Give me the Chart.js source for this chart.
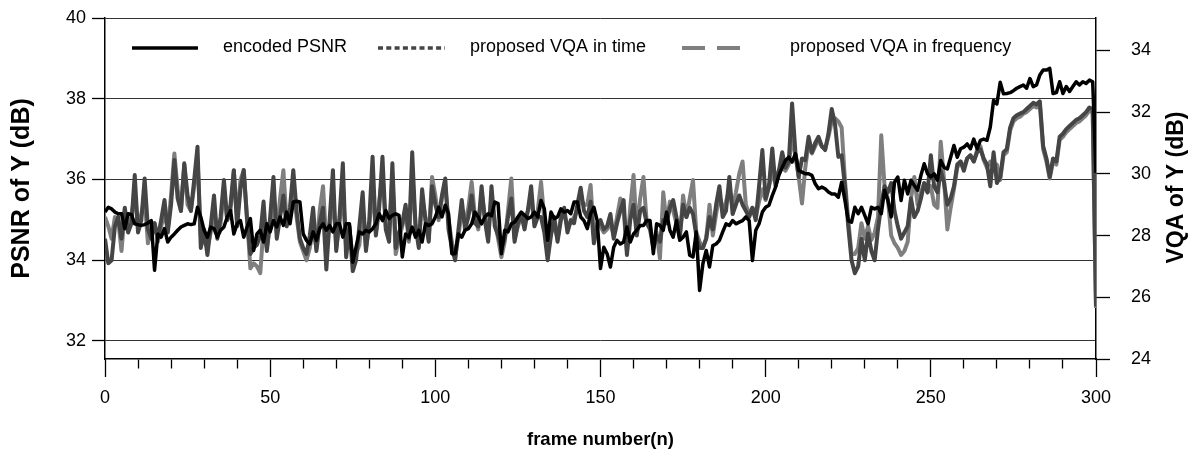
<!DOCTYPE html>
<html><head><meta charset="utf-8">
<script src="https://cdn.jsdelivr.net/npm/chart.js@4"></script>
<style>html,body{margin:0;padding:0;background:#fff;}#wrap{width:1200px;height:465px;position:relative;}</style>
</head><body><div id="wrap"><canvas id="c" width="1200" height="465"></canvas></div>
<script>
// frame numbers 0..300 (categories)
const frameStart = 0, frameEnd = 300;
const xTickValues = [0,10,20,30,40,50,60,70,80,90,100,110,120,130,140,150,160,170,180,190,200,210,220,230,240,250,260,270,280,290,300];
const leftTicks = [32,34,36,38,40];
const rightTicks = [24,26,28,30,32,34];
const seriesNames = ['encoded PSNR','proposed VQA in time','proposed VQA in frequency'];

const encodedPSNR = [
35.19,35.31,35.27,35.19,35.15,35.15,34.78,35.15,35.13,34.9,
34.88,34.86,34.88,34.92,34.98,33.75,34.65,34.57,34.78,34.45,
34.57,34.65,34.74,34.82,34.86,34.9,34.88,34.9,35.31,35.07,
34.74,34.57,34.82,34.78,34.57,34.74,34.82,35.07,35.23,34.65,
34.9,34.98,34.57,34.82,35.03,34.24,34.65,34.74,34.45,34.9,
34.7,34.98,34.82,35.07,34.86,35.19,34.9,35.44,35.46,35.44,
34.65,34.49,34.4,34.7,34.49,34.78,34.9,34.74,34.86,34.7,
34.9,34.9,34.57,34.9,34.9,33.95,34.32,34.7,34.65,34.74,
34.7,34.78,34.9,35.15,34.98,35.23,35.03,35.11,35.15,35.11,
34.08,34.65,34.57,34.82,34.57,34.74,34.45,34.9,34.86,34.9,
35.07,35.31,35.07,35.36,35.15,34.16,34.16,34.65,34.57,34.74,
34.78,34.9,35.19,35.07,34.9,35.07,35.15,35.1,35.44,35.4,
34.16,34.74,34.7,34.9,34.94,35.07,35.19,35.11,35.03,35.07,
35.19,35.07,35.48,35.27,34.49,35.19,35.03,35.07,35.27,35.19,
35.23,35.15,35.44,35.44,35.07,34.98,34.78,35.15,35.31,34.98,
33.79,34.32,34.16,33.83,34.32,34.49,34.4,34.45,34.82,34.45,
34.65,34.74,34.86,34.86,34.98,34.98,34.16,34.9,34.86,34.74,
35.19,34.74,34.57,34.98,34.49,34.57,34.7,34.12,34.08,34.7,
33.25,33.91,34.24,33.83,34.36,34.4,34.49,34.7,34.9,34.86,
34.98,34.9,34.94,34.98,35.07,34.98,33.99,34.74,34.9,35.19,
35.31,35.36,35.6,35.81,36.1,36.3,36.47,36.55,36.43,36.64,
36.22,36.18,36.14,36.14,36.1,35.89,35.77,35.81,35.77,35.69,
35.64,35.64,35.56,35.93,35.48,34.98,34.94,35.31,35.15,35.31,
35.11,34.9,35.31,35.27,35.31,35.15,35.73,35.48,35.07,35.93,
36.06,35.48,35.98,35.64,35.98,35.85,35.73,36.1,36.39,36.14,
36.06,36.14,35.98,36.47,36.3,36.26,36.55,36.84,36.55,36.76,
36.8,36.88,36.76,37.0,36.76,36.97,37.0,36.97,37.3,37.96,
37.87,38.41,38.12,38.13,38.15,38.2,38.26,38.3,38.34,38.26,
38.5,38.3,38.34,38.59,38.71,38.71,38.75,38.13,38.15,38.42,
38.13,38.3,38.18,38.3,38.42,38.34,38.42,38.38,38.46,38.42,
36.16];

const vqaTime = [
27.9,27.1,27.2,28.3,28.6,27.9,28.9,28.1,28.4,29.96,
28.1,28.5,29.85,28.2,27.9,28.4,27.9,28.5,29.15,28.1,
29.0,30.45,29.2,28.8,30.34,29.3,28.8,29.8,30.88,27.6,
28.2,27.37,28.3,29.3,27.9,28.6,29.8,28.5,29.0,30.12,
28.3,29.5,30.12,28.5,27.4,27.6,27.7,28.0,29.1,27.5,
28.6,29.9,27.9,28.6,29.3,28.3,28.9,30.12,28.8,27.9,
27.6,27.4,28.0,28.9,27.5,28.4,28.9,26.9,28.5,30.12,
27.5,28.6,30.34,27.3,28.3,26.85,27.2,28.3,29.4,27.5,
28.5,30.55,28.0,28.9,30.55,28.2,27.8,30.34,27.6,28.1,
28.4,29.0,27.9,30.7,28.3,27.6,29.5,28.5,27.8,29.6,
29.0,28.6,29.3,29.85,28.2,27.6,27.2,28.2,29.15,28.2,
28.6,29.3,28.4,28.3,29.6,28.5,27.8,29.6,28.3,28.0,
27.6,27.9,28.6,29.2,27.8,28.4,28.7,28.2,28.8,29.6,
28.3,28.6,28.6,28.1,27.2,28.0,28.6,27.8,28.5,28.9,
28.1,28.5,28.4,29.0,29.55,28.8,28.6,29.1,27.75,28.3,
28.5,28.2,28.3,28.7,27.9,28.4,28.8,29.15,27.37,28.5,
29.0,28.0,28.8,28.9,28.4,28.2,27.6,28.0,27.8,28.5,
28.4,28.9,29.15,28.6,28.0,29.0,28.6,28.9,28.7,28.0,
27.6,27.6,27.9,28.6,28.2,29.0,29.6,28.6,28.8,29.9,
28.7,29.0,29.3,29.0,28.8,28.6,28.9,28.5,29.6,30.77,
29.2,29.6,30.82,29.6,30.1,30.7,30.2,30.4,32.28,30.7,
29.9,30.5,30.44,31.2,30.7,31.0,31.2,30.9,30.77,31.3,
32.1,31.6,30.55,30.6,29.6,28.3,27.2,26.78,27.0,27.9,
27.2,28.07,27.5,27.2,28.2,29.0,29.6,29.4,29.7,28.8,
28.3,27.9,28.1,28.3,29.2,28.6,28.8,29.2,29.7,29.4,
30.6,29.6,29.4,30.1,29.7,29.0,29.2,29.6,30.3,30.4,
30.1,30.5,30.6,30.4,30.7,30.8,30.5,30.3,29.6,30.7,
29.7,29.9,30.7,30.8,31.5,31.8,31.9,31.95,32.0,32.1,
32.2,32.3,32.25,32.35,30.9,30.5,29.9,30.5,30.4,31.2,
31.3,31.45,31.55,31.65,31.75,31.8,31.9,32.0,32.15,32.1,
25.7];

const vqaFreq = [
28.6,28.3,27.9,28.6,28.5,27.5,28.8,28.2,28.6,29.4,
28.2,28.7,29.2,27.75,28.2,28.4,27.8,28.3,28.7,28.2,
29.3,30.66,29.5,28.8,30.3,29.0,28.8,29.6,30.45,28.0,
27.8,27.6,28.1,28.8,28.0,28.4,29.5,28.5,28.8,30.1,
28.5,29.8,30.12,28.6,26.94,27.1,27.0,26.78,28.3,27.6,
28.3,29.2,28.1,29.2,30.12,28.4,28.6,29.6,28.6,27.8,
27.5,27.2,27.6,28.2,27.6,28.8,29.6,27.8,28.3,29.4,
27.6,28.4,29.5,27.6,28.2,27.3,27.4,27.7,28.8,27.6,
28.3,29.6,28.1,29.1,30.0,28.3,28.0,29.9,27.4,27.9,
28.3,28.8,27.8,29.9,28.4,27.7,29.2,28.6,27.9,29.9,
29.3,28.5,29.2,29.6,28.5,27.8,27.3,28.0,28.8,28.4,
28.9,29.74,28.6,28.2,29.4,28.6,27.9,29.3,28.5,27.9,
27.3,27.8,28.8,29.85,27.9,28.3,28.6,28.5,28.8,29.2,
28.4,28.8,29.74,28.5,27.4,28.1,28.3,27.9,28.6,28.7,
28.3,28.4,28.6,28.8,29.2,29.0,29.0,29.64,28.0,28.4,
28.3,28.1,28.2,28.4,28.0,28.6,29.2,28.8,27.5,28.9,
29.96,28.1,29.2,29.9,28.4,28.3,27.7,28.1,27.26,29.4,
28.4,29.1,28.8,28.4,27.9,29.3,28.6,29.2,29.8,28.1,
27.8,27.6,27.9,29.0,28.0,28.7,29.3,28.8,29.1,29.5,
28.9,29.4,30.0,30.4,29.0,28.7,28.9,28.6,29.1,29.5,
29.15,29.6,30.0,29.7,30.12,30.2,30.1,30.3,31.2,30.6,
29.9,29.04,30.2,31.0,30.66,30.9,31.1,30.88,30.8,31.2,
31.7,31.8,31.7,31.5,29.8,28.5,27.4,27.4,27.6,28.4,
27.9,28.3,27.86,28.1,28.6,31.25,29.58,29.2,28.0,27.75,
27.6,27.37,27.5,27.8,29.2,29.9,29.0,29.4,29.7,29.4,
29.6,29.0,28.9,31.04,29.8,28.2,28.9,29.5,30.2,30.4,
30.2,30.5,30.6,30.4,30.77,30.9,30.44,30.2,30.4,30.2,
30.3,29.8,30.6,30.7,31.4,31.7,31.8,31.85,31.95,32.0,
32.1,32.2,32.15,32.25,30.8,30.4,29.85,30.4,30.3,31.1,
31.2,31.35,31.45,31.55,31.65,31.7,31.8,31.9,32.05,32.0,
25.65];

const FONT = '"Liberation Sans", Arial, sans-serif';
const toXY = arr => arr.map((v, i) => ({x: frameStart + i, y: v}));

const titlesPlugin = {
  id: 'titles',
  afterDraw(chart) {
    const ctx = chart.ctx;
    const a = chart.chartArea;
    ctx.save();
    ctx.fillStyle = '#000';
    ctx.textAlign = 'center';
    ctx.textBaseline = 'middle';
    ctx.font = 'bold 25px ' + FONT;
    ctx.save(); ctx.translate(22, (a.top + a.bottom) / 2); ctx.rotate(-Math.PI / 2);
    ctx.fillText('PSNR of Y (dB)', 0, 0); ctx.restore();
    ctx.font = 'bold 23px ' + FONT;
    ctx.save(); ctx.translate(1177, (a.top + a.bottom) / 2 - 1); ctx.rotate(-Math.PI / 2);
    ctx.fillText('VQA of Y (dB)', 0, 0); ctx.restore();
    ctx.font = 'bold 18.5px ' + FONT;
    ctx.fillText('frame number(n)', (a.left + a.right) / 2, 440);
    // legend
    const ly = 48;
    ctx.lineCap = 'butt';
    ctx.lineWidth = 3.5; ctx.strokeStyle = '#000'; ctx.setLineDash([]);
    ctx.beginPath(); ctx.moveTo(132, ly); ctx.lineTo(198, ly); ctx.stroke();
    ctx.lineWidth = 3.5; ctx.strokeStyle = '#454545'; ctx.setLineDash([5, 3.3]);
    ctx.beginPath(); ctx.moveTo(378, ly); ctx.lineTo(445, ly); ctx.stroke();
    ctx.lineWidth = 4; ctx.strokeStyle = '#7f7f7f'; ctx.setLineDash([23, 12]);
    ctx.beginPath(); ctx.moveTo(682, ly); ctx.lineTo(740, ly); ctx.stroke();
    ctx.setLineDash([]);
    ctx.font = '18px ' + FONT;
    ctx.textAlign = 'left';
    ctx.fillText(seriesNames[0], 223, ly - 1);
    ctx.fillText(seriesNames[1], 470, ly - 1);
    ctx.fillText(seriesNames[2], 790, ly - 1);
    ctx.restore();
  }
};

new Chart(document.getElementById('c'), {
  type: 'line',
  data: {
    datasets: [
      {label: seriesNames[0], data: toXY(encodedPSNR), yAxisID: 'y', borderColor: '#000', borderWidth: 3.5, pointRadius: 0, tension: 0, borderJoinStyle: 'round'},
      {label: seriesNames[1], data: toXY(vqaTime), yAxisID: 'y2', borderColor: '#454545', borderWidth: 4, pointRadius: 0, tension: 0, borderJoinStyle: 'round'},
      {label: seriesNames[2], data: toXY(vqaFreq), yAxisID: 'y2', borderColor: '#7f7f7f', borderWidth: 4, pointRadius: 0, tension: 0, borderJoinStyle: 'round'}
    ]
  },
  options: {
    responsive: false, animation: false, devicePixelRatio: 1,
    layout: {padding: {top: 18, left: 0, right: 0, bottom: 0}},
    plugins: {legend: {display: false}, tooltip: {enabled: false}},
    elements: {line: {fill: false}},
    scales: {
      x: {
        type: 'linear', position: 'bottom', min: frameStart, max: frameEnd,
        afterBuildTicks: s => { s.ticks = xTickValues.map(v => ({value: v})); },
        afterFit: s => { s.height = 106; s.paddingLeft = 0; s.paddingRight = 0; },
        grid: {drawOnChartArea: false, drawTicks: true, tickLength: 18, tickColor: '#000', tickWidth: 1.3,
          tickBorderDash: c => (c.tick && c.tick.value % 50 === 0) ? [] : [9, 40]},
        border: {display: true, color: '#000', width: 1.5},
        ticks: {color: '#000', font: {family: FONT, size: 18}, padding: 10, autoSkip: false, maxRotation: 0,
          callback: v => (v % 50 === 0 ? String(v) : '')}
      },
      y: {
        type: 'linear', position: 'left', min: 31.55, max: 40,
        afterBuildTicks: s => { s.ticks = leftTicks.map(v => ({value: v})); },
        afterFit: s => { s.width = 105; s.paddingTop = 0; s.paddingBottom = 0; },
        grid: {drawOnChartArea: true, color: '#333', lineWidth: 1, tickLength: 13, tickColor: '#000', tickWidth: 1.3},
        border: {display: true, color: '#000', width: 1.5},
        ticks: {color: '#000', font: {family: FONT, size: 18}, padding: 6}
      },
      y2: {
        type: 'linear', position: 'right', min: 24, max: 35.05,
        afterBuildTicks: s => { s.ticks = rightTicks.map(v => ({value: v})); },
        afterFit: s => { s.width = 104; s.paddingTop = 0; s.paddingBottom = 0; },
        grid: {drawOnChartArea: false, tickLength: 14, tickColor: '#000', tickWidth: 1.3},
        border: {display: true, color: '#000', width: 1.5},
        ticks: {color: '#000', font: {family: FONT, size: 18}, padding: 21}
      }
    }
  },
  plugins: [titlesPlugin]
});
</script></body></html>
